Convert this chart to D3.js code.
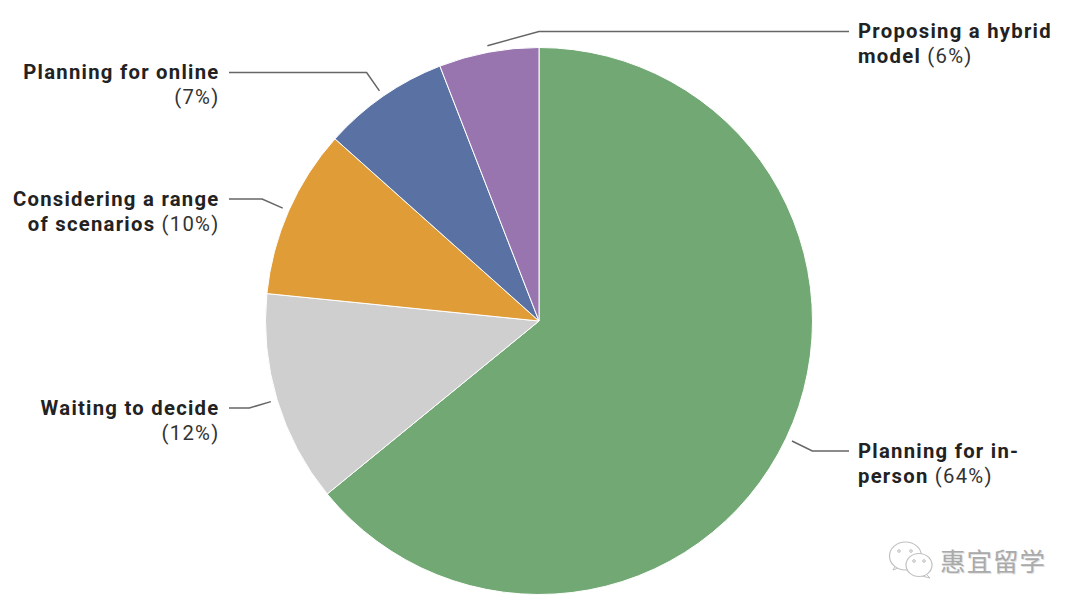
<!DOCTYPE html>
<html><head><meta charset="utf-8">
<script src="https://cdn.jsdelivr.net/npm/d3@7"></script>
<style>html,body{margin:0;background:#fff}svg{display:block}
text{font-family:Roboto,sans-serif;font-size:20.3px;letter-spacing:1.25px;fill:#222}
.n{font-weight:700}.p{font-weight:400;fill:#333}</style></head><body>
<svg id="c" width="1080" height="609"></svg>
<script>
const categories=["Planning for in-person","Waiting to decide","Considering a range of scenarios","Planning for online","Proposing a hybrid model"];
const values=[64.1,12.5,10,7.5,5.9];
const percentLabels=["(64%)","(12%)","(10%)","(7%)","(6%)"];
const colors=["#71a873","#cfcfcf","#e09c36","#5a72a3","#9875ae"];
const labelLines=[
 [[["Planning for in-","n"]],[["person ","n"],["(64%)","p"]]],
 [[["Waiting to decide","n"]],[["(12%)","p"]]],
 [[["Considering a range","n"]],[["of scenarios ","n"],["(10%)","p"]]],
 [[["Planning for online","n"]],[["(7%)","p"]]],
 [[["Proposing a hybrid","n"]],[["model ","n"],["(6%)","p"]]]
];
// layout
const cx=539,cy=321,R=273.5;
const layout=[
 {lineY:451,lineEnd:849,textX:858,anchor:"start",elbow:null},
 {lineY:408,lineEnd:229,textX:219.5,anchor:"end",elbow:null},
 {lineY:199,lineEnd:229,textX:219.5,anchor:"end",elbow:null},
 {lineY:72.5,lineEnd:229,textX:219.5,anchor:"end",elbow:null},
 {lineY:31.5,lineEnd:849,textX:858,anchor:"start",elbow:{a:0,r:289.5}}
];
const svg=d3.select("#c");
const g=svg.append("g").attr("transform",`translate(${cx},${cy})`);
const pie=d3.pie().sort(null).value(d=>d);
const arcs=pie(values);
const arc=d3.arc().innerRadius(0).outerRadius(R);
g.selectAll("path.s").data(arcs).join("path").attr("class","s")
 .attr("d",arc).attr("fill",(d,i)=>colors[i]).attr("stroke","#fff").attr("stroke-width",1);
const polar=(a,r)=>[Math.sin(a)*r,-Math.cos(a)*r];
const line=d3.line();
arcs.forEach((d,i)=>{
  const m=(d.startAngle+d.endAngle)/2, L=layout[i];
  const s=polar(m,R+6.5);
  const e=L.elbow?polar(L.elbow.a,L.elbow.r):[polar(m,R+29)[0],L.lineY-cy];
  g.append("path").attr("d",line([s,e,[L.lineEnd-cx,L.lineY-cy]]))
   .attr("fill","none").attr("stroke","#666").attr("stroke-width",1.5);
  const t=svg.append("text").attr("text-anchor",L.anchor);
  labelLines[i].forEach((row,k)=>{
    row.forEach((part,j)=>{
      const ts=t.append("tspan").attr("class",part[1]).text(part[0]);
      if(j===0) ts.attr("x",L.textX).attr("y",L.lineY+6.5+k*25);
    });
  });
});
// watermark
const wm=svg.append("g");
const bubble=(x,y,rx,ry)=>{
  wm.append("ellipse").attr("cx",x).attr("cy",y).attr("rx",rx).attr("ry",ry)
   .attr("fill","#fff").attr("stroke","#c0c0c0").attr("stroke-width",1.2);
};
wm.append("path").attr("d",d3.line()([[897,563],[893,570],[903,566]])).attr("fill","#fff").attr("stroke","#c0c0c0");
bubble(905.5,556,16,14);
wm.append("path").attr("d",d3.line()([[924,572],[930,578],[918,575]])).attr("fill","#fff").attr("stroke","#c0c0c0");
bubble(919,565,13,11.5);
[[899,551],[911,551],[914,561],[924,561]].forEach(p=>wm.append("circle").attr("cx",p[0]).attr("cy",p[1]).attr("r",1.3).attr("fill","none").attr("stroke","#aaa").attr("stroke-width",.8));
wm.append("text").attr("x",940).attr("y",571).text("惠宜留学")
 .style("font-family","'Noto Sans CJK SC'").style("font-size","25.5px").style("letter-spacing","1px").style("fill","#aaa").style("font-weight",400).style("text-shadow","1px 1px 0 #e2e2e2");
</script></body></html>
